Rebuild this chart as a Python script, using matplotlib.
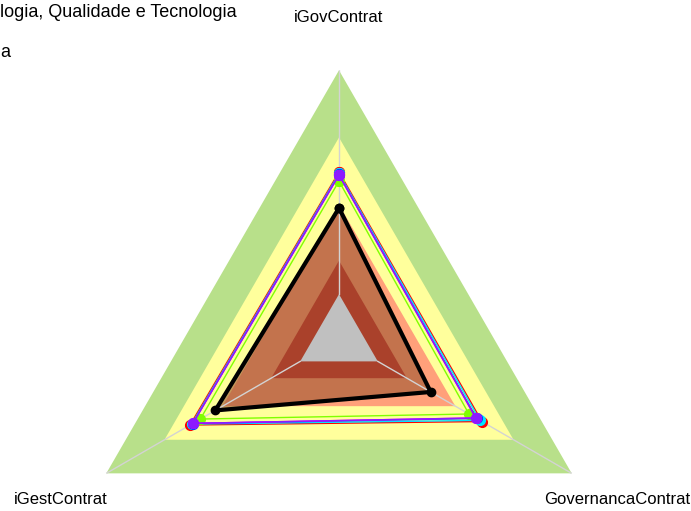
import numpy as np
import matplotlib
matplotlib.use("Agg")
import matplotlib.pyplot as plt

plt.rcParams['font.family'] = ['Liberation Sans', 'DejaVu Sans']

# eixos do radar (sentido horario a partir do topo)
eixos = ['iGovContrat', 'GovernancaContrat', 'iGestContrat']

# faixas de maturidade (limite superior, cor)
faixas = [1.0, 0.70, 0.40, 0.15, 0.0]
cores_faixas = ['#b8e08a', '#ffff9c', '#ffa07a', '#aa412b', '#c0c0c0']

# series (iGovContrat, GovernancaContrat, iGestContrat)
series = {
    '#ff0000': [0.546, 0.537, 0.568],
    '#00e5ff': [0.540, 0.527, 0.560],
    '#80ff00': [0.505, 0.470, 0.515],
    '#0040ff': [0.535, 0.510, 0.555],
    '#ff00ff': [0.533, 0.505, 0.553],
    '#8c1aff': [0.532, 0.505, 0.553],
}
serie_destaque = [0.385, 0.273, 0.438]

RMIN, RMAX = -0.2, 1.0

fig = plt.figure(figsize=(6.91, 5.11), dpi=100)
# centro do radar em (339, 339) px, raio ~269 px
cx, cy, R = 339, 511 - 339, 268.7
ax = fig.add_axes([(cx - R) / 691, (cy - R) / 511, 2 * R / 691, 2 * R / 511],
                  projection='polar')
ax.set_theta_offset(np.pi / 2)
ax.set_theta_direction(-1)
ax.set_ylim(RMIN, RMAX)
ax.grid(False)
ax.set_xticks([])
ax.set_yticks([])
ax.spines['polar'].set_visible(False)
ax.patch.set_alpha(0)

ang = np.linspace(0, 2 * np.pi, len(eixos), endpoint=False)
ang_f = np.append(ang, ang[0])

def fechado(v):
    return np.append(v, v[0])

# faixas de fundo
for nivel, cor in zip(faixas[:3], cores_faixas[:3]):
    ax.fill(ang_f, fechado([nivel] * 3), color=cor, zorder=1, lw=0)

# preenchimento da serie destaque
ax.fill(ang_f, fechado(serie_destaque), color='#9c5530', alpha=0.6, lw=0, zorder=2)

ax.fill(ang_f, fechado([faixas[3]] * 3), color=cores_faixas[3], zorder=3, lw=0)
ax.fill(ang_f, fechado([faixas[4]] * 3), color=cores_faixas[4], zorder=3, lw=0)

# raios
for a in ang:
    ax.plot([a, a], [0.0, RMAX], color='#d3d3d3', lw=1, zorder=4)

# series
for cor, vals in series.items():
    ax.plot(ang_f, fechado(vals), color=cor, lw=1, marker='o', ms=7,
            zorder=5)
ax.plot(ang_f, fechado(serie_destaque), color='black', lw=3, marker='o', ms=6,
        zorder=6)

# rotulos dos eixos
for a, nome in zip(ang, eixos):
    ax.text(a, 1.235, nome, ha='center', va='center', fontsize=12,
            clip_on=False)

fig.text(0.0, 0.975, 'logia, Qualidade e Tecnologia', ha='left', va='center',
         fontsize=13)
fig.text(0.0, 0.897, 'a', ha='left', va='center', fontsize=13)

fig.savefig('out.png', dpi=100)
